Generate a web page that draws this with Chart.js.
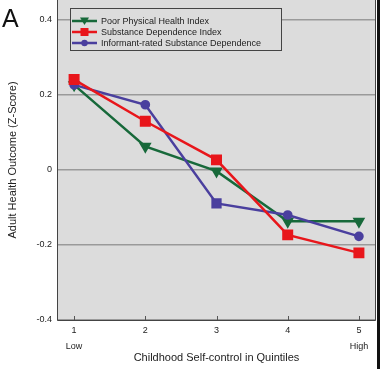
<!DOCTYPE html>
<html>
<head>
<meta charset="utf-8">
<script src="https://cdn.jsdelivr.net/npm/chart.js@4"></script>
<style>
  html, body { margin: 0; padding: 0; background: #fff; }
  #grafico { display: block; }
</style>
</head>
<body>
<canvas id="grafico" width="380" height="369"></canvas>
<script>
// quintis de autocontrole na infância
const quintis = [1, 2, 3, 4, 5];
const rotulosX = { 1: ['1', 'Low'], 2: '2', 3: '3', 4: '4', 5: ['5', 'High'] };
const ticksY = [-0.4, -0.2, 0, 0.2, 0.4];

// séries (Z-score)
const saudeFisica = [0.227, 0.063, -0.003, -0.137, -0.137];
const dependencia = [0.241, 0.130, 0.027, -0.173, -0.221];
const informante = [0.227, 0.174, -0.089, -0.120, -0.177];

const nomes = ['Poor Physical Health Index', 'Substance Dependence Index', 'Informant-rated Substance Dependence'];

const FUNDO = '#dcdcdc';
const VERDE = '#17693a';
const VERMELHO = '#e8161b';
const AZUL = '#4a3f9e';
const FONTE = '"Liberation Sans", Arial, sans-serif';

const pontos = vals => vals.map((v, i) => ({ x: quintis[i], y: v }));

// fundo da área do gráfico + "A" + marcas do eixo x + legenda + faixa preta
const extras = {
  id: 'extras',
  beforeDraw(chart) {
    const { ctx, chartArea: a } = chart;
    ctx.save();
    ctx.fillStyle = FUNDO;
    ctx.fillRect(a.left, a.top, a.right - a.left, a.bottom - a.top);
    ctx.restore();
  },
  afterDraw(chart) {
    const { ctx, chartArea: a, scales } = chart;
    ctx.save();
    // marcas do eixo x (para dentro)
    ctx.strokeStyle = '#555';
    ctx.lineWidth = 1;
    quintis.forEach(q => {
      const x = Math.round(scales.x.getPixelForValue(q)) + 0.5;
      ctx.beginPath();
      ctx.moveTo(x, a.bottom);
      ctx.lineTo(x, a.bottom - 4);
      ctx.stroke();
    });
    // borda esquerda / inferior / direita
    ctx.strokeStyle = '#444';
    ctx.beginPath();
    ctx.moveTo(a.left + 0.5, a.top);
    ctx.lineTo(a.left + 0.5, a.bottom + 0.5);
    ctx.lineTo(a.right - 0.5, a.bottom + 0.5);
    ctx.lineTo(a.right - 0.5, a.top);
    ctx.stroke();

    // letra do painel
    ctx.fillStyle = '#111';
    ctx.font = '25px ' + FONTE;
    ctx.textBaseline = 'alphabetic';
    ctx.fillText('A', 2, 27);

    // legenda
    const bx = 70, by = 8, bw = 211, bh = 42;
    ctx.fillStyle = FUNDO;
    ctx.fillRect(bx, by, bw, bh);
    ctx.strokeStyle = '#444';
    ctx.strokeRect(bx + 0.5, by + 0.5, bw, bh);
    ctx.font = '9px ' + FONTE;
    ctx.textBaseline = 'middle';
    chart.data.datasets.forEach((ds, i) => {
      const y = 21 + i * 11;
      ctx.strokeStyle = ds.borderColor;
      ctx.lineWidth = 2.5;
      ctx.beginPath();
      ctx.moveTo(72, y);
      ctx.lineTo(97, y);
      ctx.stroke();
      ctx.fillStyle = ds.borderColor;
      const cx = 84.5;
      if (i === 0) {
        ctx.beginPath();
        ctx.moveTo(cx - 4.5, y - 3.5);
        ctx.lineTo(cx + 4.5, y - 3.5);
        ctx.lineTo(cx, y + 4);
        ctx.closePath();
        ctx.fill();
      } else if (i === 1) {
        ctx.fillRect(cx - 4, y - 4, 8, 8);
      } else {
        ctx.beginPath();
        ctx.arc(cx, y, 3.2, 0, Math.PI * 2);
        ctx.fill();
      }
      ctx.fillStyle = '#222';
      ctx.fillText(ds.label, 101, y + 0.5);
    });

    // faixa escura na borda direita
    ctx.fillStyle = '#111';
    ctx.fillRect(377, 0, 3, chart.height);
    ctx.restore();
  }
};

new Chart(document.getElementById('grafico'), {
  type: 'line',
  plugins: [extras],
  data: {
    datasets: [
      {
        label: nomes[0], data: pontos(saudeFisica), borderColor: VERDE, backgroundColor: VERDE,
        pointStyle: 'triangle', rotation: 180, pointRadius: 4.8, borderWidth: 2.5, order: 2
      },
      {
        label: nomes[1], data: pontos(dependencia), borderColor: VERMELHO, backgroundColor: VERMELHO,
        pointStyle: 'rect', pointRadius: 6, borderWidth: 2.5, order: 0
      },
      {
        label: nomes[2], data: pontos(informante), borderColor: AZUL, backgroundColor: AZUL,
        pointStyle: ['circle', 'circle', 'rect', 'circle', 'circle'], pointRadius: [3.6, 3.6, 5.5, 3.6, 3.6],
        borderWidth: 2.5, order: 1
      }
    ]
  },
  options: {
    responsive: false,
    animation: false,
    layout: { autoPadding: false, padding: { top: 0, right: 4, left: 0, bottom: 0 } },
    plugins: { legend: { display: false }, tooltip: { enabled: false } },
    scales: {
      x: {
        type: 'linear',
        min: 0.76, max: 5.24,
        afterBuildTicks: axis => { axis.ticks = quintis.map(v => ({ value: v })); },
        afterFit: axis => { axis.height = 49; axis.paddingLeft = 0; axis.paddingRight = 0; },
        grid: { display: false, drawTicks: false },
        border: { display: false },
        ticks: {
          padding: 2,
          color: '#222',
          font: { family: FONTE, size: 9, lineHeight: 1.85 },
          maxRotation: 0,
          callback: v => rotulosX[v]
        },
        title: {
          display: true,
          text: 'Childhood Self-control in Quintiles',
          color: '#222',
          font: { family: FONTE, size: 11 },
          padding: { top: 0, bottom: 4 }
        }
      },
      y: {
        min: -0.4, max: 0.4533,
        afterBuildTicks: axis => { axis.ticks = ticksY.map(v => ({ value: v })); },
        afterFit: axis => { axis.width = 57; axis.paddingTop = 0; axis.paddingBottom = 0; },
        grid: { color: '#9a9a9a', lineWidth: 1.5, drawTicks: false },
        border: { display: false },
        ticks: {
          padding: 5,
          color: '#222',
          font: { family: FONTE, size: 9 },
          callback: v => (v === 0 ? '0' : v.toFixed(1))
        },
        title: {
          display: true,
          text: 'Adult Health Outcome (Z-Score)',
          color: '#222',
          font: { family: FONTE, size: 11 },
          padding: { top: 6, bottom: 0 }
        }
      }
    }
  }
});
</script>
</body>
</html>
